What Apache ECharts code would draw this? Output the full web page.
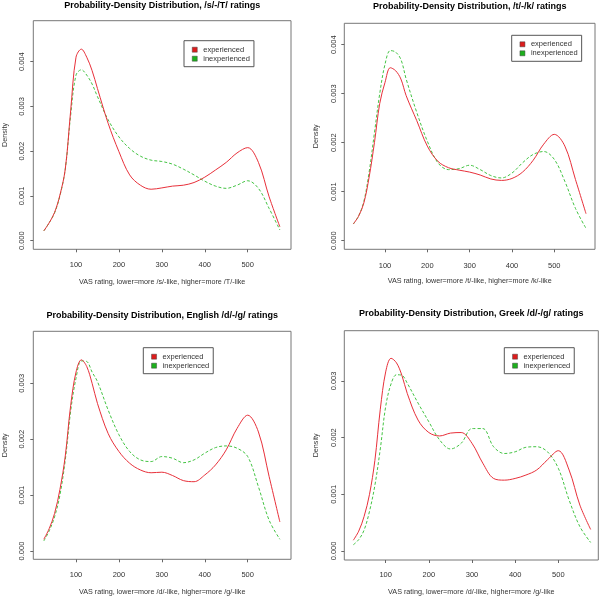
<!DOCTYPE html>
<html>
<head>
<meta charset="utf-8">
<script src="https://cdn.jsdelivr.net/npm/echarts@6/dist/echarts.min.js"></script>
<style>
html,body{margin:0;padding:0;background:#fff;}
#c{width:601px;height:599px;}
</style>
</head>
<body>
<div id="c"></div>
<script>
// ---- data ----
var vas = [25, 37.5, 50, 62.5, 75, 87.5, 100, 112.5, 125, 137.5, 150, 175, 200, 225, 250, 275, 300, 325, 350, 375, 400, 425, 450, 475, 500, 525, 550, 575];

var sT_experienced   = [0.00022,0.0004,0.00063,0.00102,0.0016,0.0029,0.0041,0.00428,0.0041,0.0038,0.0034,0.00262,0.00199,0.00147,0.00124,0.00115,0.00118,0.00122,0.00124,0.0013,0.00142,0.00158,0.00175,0.00196,0.00208,0.00175,0.00098,0.00031];
var sT_inexperienced = [0.00022,0.0004,0.00062,0.001,0.0016,0.0028,0.0037,0.00382,0.0037,0.0035,0.00322,0.0027,0.00232,0.00206,0.00189,0.0018,0.00177,0.00171,0.0016,0.00147,0.00133,0.00122,0.00117,0.00124,0.00134,0.00117,0.00072,0.00024];

var tk_experienced   = [0.00034,0.0005,0.00077,0.0013,0.002,0.0028,0.00323,0.00353,0.00347,0.0033,0.00296,0.00245,0.00193,0.00162,0.00149,0.00144,0.0014,0.00134,0.00126,0.00123,0.00127,0.0014,0.00164,0.00197,0.00217,0.00193,0.00125,0.00055];
var tk_inexperienced = [0.00034,0.0005,0.0008,0.0014,0.0022,0.003,0.0036,0.00388,0.00385,0.0037,0.0033,0.00262,0.00203,0.00159,0.00145,0.00147,0.00154,0.00145,0.00133,0.00128,0.00138,0.00159,0.00176,0.00182,0.00166,0.00121,0.00066,0.00025];

var engDG_experienced   = [0.00021,0.0004,0.00067,0.0011,0.0017,0.0026,0.0032,0.00342,0.0033,0.003,0.00264,0.0021,0.00178,0.00157,0.00145,0.0014,0.00141,0.00135,0.00126,0.00124,0.00136,0.00154,0.00181,0.00219,0.00243,0.00213,0.00133,0.00052];
var engDG_inexperienced = [0.00018,0.00036,0.00061,0.001,0.00163,0.0025,0.00309,0.0034,0.00339,0.0032,0.00303,0.00252,0.00208,0.00178,0.00163,0.0016,0.00169,0.00166,0.00158,0.00163,0.00175,0.00185,0.00188,0.00184,0.00169,0.00115,0.00055,0.00021];

var grkDG_experienced   = [0.00019,0.00035,0.00061,0.001,0.0016,0.0025,0.00316,0.0034,0.00332,0.0031,0.00278,0.00231,0.00209,0.00203,0.00208,0.00209,0.0019,0.00155,0.00128,0.00125,0.00128,0.00134,0.00143,0.00161,0.00177,0.00143,0.00081,0.00038];
var grkDG_inexperienced = [0.00011,0.0002,0.00037,0.0007,0.00116,0.0018,0.00255,0.00295,0.00311,0.0031,0.00296,0.00261,0.00228,0.00196,0.0018,0.0019,0.00216,0.00216,0.00184,0.00172,0.00175,0.00183,0.00184,0.00175,0.00146,0.0009,0.00043,0.00015];

var titles = [
  "Probability-Density Distribution, /s/-/T/ ratings",
  "Probability-Density Distribution, /t/-/k/ ratings",
  "Probability-Density Distribution, English /d/-/g/ ratings",
  "Probability-Density Distribution, Greek /d/-/g/ ratings"
];
var xNames = [
  "VAS rating, lower=more /s/-like, higher=more /T/-like",
  "VAS rating, lower=more /t/-like, higher=more /k/-like",
  "VAS rating, lower=more /d/-like, higher=more /g/-like",
  "VAS rating, lower=more /d/-like, higher=more /g/-like"
];
var yName = "Density";
var seriesNames = ["experienced", "inexperienced"];
var xTicks = [100, 200, 300, 400, 500];
var yTicksTop = [0, 0.001, 0.002, 0.003, 0.004];
var yTicksBottom = [0, 0.001, 0.002, 0.003];

var panelData = [
  [sT_experienced, sT_inexperienced],
  [tk_experienced, tk_inexperienced],
  [engDG_experienced, engDG_inexperienced],
  [grkDG_experienced, grkDG_inexperienced]
];
var panelYTicks = [yTicksTop, yTicksTop, yTicksBottom, yTicksBottom];

// ---- layout ----
var layout = [
  {grid:{left:33.3, top:20.7, width:257.7, height:228.6}, x:[0.5,600.9], y:[-0.000192,0.004916], titleY:1.5, legend:[184,40.7], xm:11.8, xg:29.2, ym:7.4},
  {grid:{left:344.3, top:23.3, width:250.7, height:226}, x:[3.8,596.2], y:[-0.000176,0.004437], titleY:2.3, legend:[511.7,35.3], xm:12.2, xg:28.2, ym:6.8},
  {grid:{left:33.3, top:331.3, width:257.7, height:228}, x:[0.5,600.9], y:[-0.000148,0.00393], titleY:310.8, legend:[143.3,347.7], xm:11.8, xg:29.2, ym:7.4},
  {grid:{left:344.3, top:330.7, width:254, height:229.3}, x:[4.1,592.7], y:[-0.000159,0.003887], titleY:309.2, legend:[504.3,347.7], xm:11.1, xg:28.5, ym:6.8}
];

var FONT = "Liberation Sans, Arial, Helvetica, sans-serif";
var RED = "#e8303a", GREEN = "#44c444";

var option = {
  backgroundColor: "#ffffff",
  animation: false,
  title: [], grid: [], xAxis: [], yAxis: [], legend: [], series: []
};

layout.forEach(function (L, i) {
  option.title.push({
    text: titles[i],
    left: L.grid.left + L.grid.width / 2,
    top: L.titleY,
    textAlign: "center",
    padding: 0,
    textStyle: {fontFamily: FONT, fontSize: 9, fontWeight: "bold", color: "#000"}
  });
  option.grid.push({
    left: L.grid.left, top: L.grid.top, width: L.grid.width, height: L.grid.height,
    show: true, borderColor: "#777", borderWidth: 1, backgroundColor: "transparent",
    containLabel: false
  });
  option.xAxis.push({
    type: "value", gridIndex: i, min: L.x[0], max: L.x[1], position: "bottom",
    axisLine: {show: false, onZero: false},
    splitLine: {show: false},
    axisTick: {show: true, customValues: xTicks, length: 3, inside: false, lineStyle: {color: "#666", width: 1}},
    axisLabel: {show: true, customValues: xTicks, margin: L.xm, fontFamily: FONT, fontSize: 7.5, color: "#333"},
    name: xNames[i], nameLocation: "middle", nameGap: L.xg,
    nameTextStyle: {fontFamily: FONT, fontSize: 7.2, color: "#333"}
  });
  option.yAxis.push({
    type: "value", gridIndex: i, min: L.y[0], max: L.y[1], position: "left",
    axisLine: {show: false, onZero: false},
    splitLine: {show: false},
    axisTick: {show: true, customValues: panelYTicks[i], length: 3, inside: false, lineStyle: {color: "#666", width: 1}},
    axisLabel: {show: true, customValues: panelYTicks[i], rotate: 90, margin: L.ym, fontFamily: FONT, fontSize: 7.5, color: "#333",
      formatter: function (v) { return v.toFixed(3); }},
    name: yName, nameLocation: "middle", nameGap: 24.4,
    nameTextStyle: {fontFamily: FONT, fontSize: 7.2, color: "#333"}
  });
  option.legend.push({
    left: L.legend[0], top: L.legend[1],
    orient: "vertical",
    data: [
      {name: seriesNames[0], itemStyle: {color: "#dd1c1c", borderColor: "#444", borderWidth: 0.5}},
      {name: seriesNames[1], itemStyle: {color: "#1cb01c", borderColor: "#444", borderWidth: 0.5}}
    ],
    icon: "rect", itemWidth: 5, itemHeight: 5, itemGap: 1,
    padding: [5, 4, 4, 8],
    borderColor: "#555", borderWidth: 1,
    selectedMode: false,
    textStyle: {fontFamily: FONT, fontSize: 7.5, color: "#333", padding: [0, 0, 0, 1]}
  });
  var pair = panelData[i];
  option.series.push({
    name: seriesNames[0], type: "line", xAxisIndex: i, yAxisIndex: i,
    data: vas.map(function (x, k) { return [x, pair[0][k]]; }),
    showSymbol: false, smooth: 0.35, z: 3,
    lineStyle: {color: RED, width: 1, type: "solid"},
    itemStyle: {color: RED}
  });
  option.series.push({
    name: seriesNames[1], type: "line", xAxisIndex: i, yAxisIndex: i,
    data: vas.map(function (x, k) { return [x, pair[1][k]]; }),
    showSymbol: false, smooth: 0.35, z: 2,
    lineStyle: {color: GREEN, width: 1, type: [3, 2]},
    itemStyle: {color: GREEN}
  });
});

var chart = echarts.init(document.getElementById("c"), null, {renderer: "canvas"});
chart.setOption(option);
</script>
</body>
</html>
